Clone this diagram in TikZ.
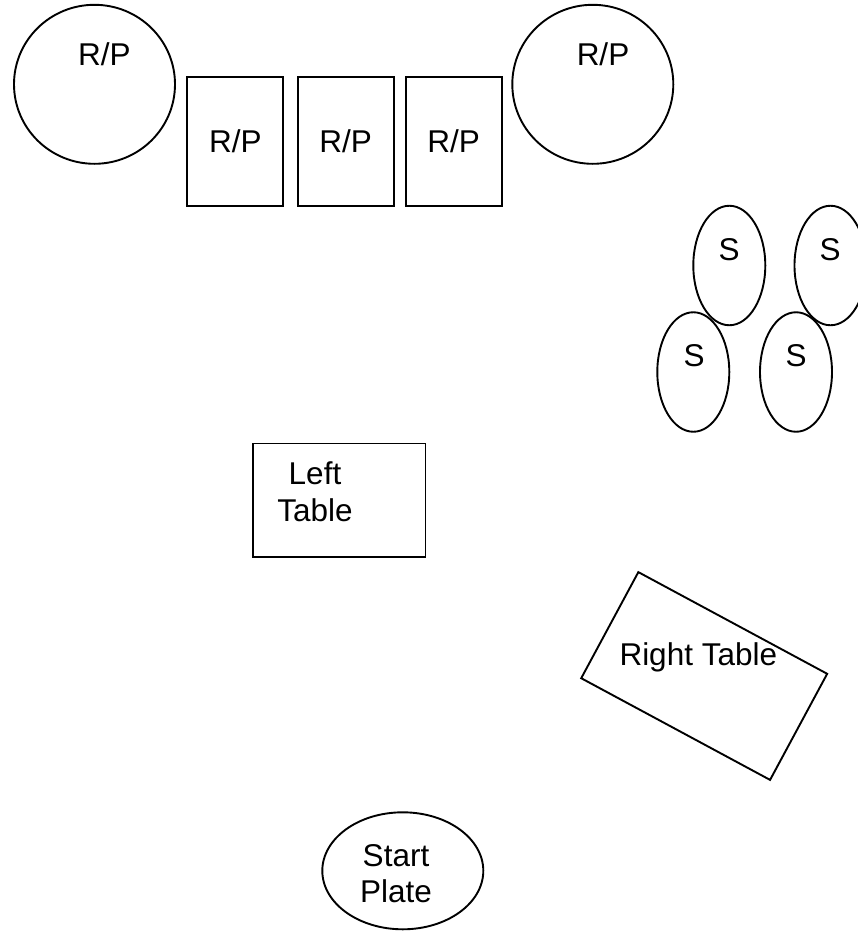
\documentclass[tikz,border=0pt]{standalone}
\usepackage{fontspec}
\setmainfont{Liberation Sans}
\usetikzlibrary{shapes.geometric}
\tikzset{
  shapeline/.style={draw=black, line width=1.9pt},
  roundseat/.style={shapeline, ellipse, inner sep=0pt},
  boxseat/.style={shapeline, rectangle, inner sep=0pt},
  lbl/.style={font=\fontsize{31.5}{36.7}\selectfont, inner sep=0pt, align=center},
}
\begin{document}
\begin{tikzpicture}[x=1pt,y=-1pt]
\useasboundingbox (0,0) rectangle (858,932);
\clip (0,0) rectangle (858,932);
% R/P round tables
\node[roundseat, minimum width=161pt, minimum height=159pt] (rp1) at (94.5,84.3) {};
\node[lbl, anchor=base] (rp1t) at (104.5,65.7) {R/P};
\node[roundseat, minimum width=161pt, minimum height=159pt] (rp5) at (592.8,84.3) {};
\node[lbl, anchor=base] (rp5t) at (603,65.7) {R/P};
% R/P rectangles
\node[boxseat, lbl, minimum width=96pt, minimum height=128.5pt] (rp2) at (235.3,141.3) {R/P};
\node[boxseat, lbl, minimum width=96pt, minimum height=128.5pt] (rp3) at (345.7,141.3) {R/P};
\node[boxseat, lbl, minimum width=96pt, minimum height=128.5pt] (rp4) at (453.7,141.3) {R/P};
% S ellipses
\node[roundseat, minimum width=72pt, minimum height=119.5pt] (sa) at (729.3,265.5) {};
\node[roundseat, minimum width=72pt, minimum height=119.5pt] (sb) at (830.5,265.5) {};
\node[roundseat, minimum width=72pt, minimum height=119.5pt] (sc) at (693.3,372) {};
\node[roundseat, minimum width=72pt, minimum height=119.5pt] (sd) at (796,372) {};
\node[lbl, anchor=base] (sat) at (729,260.3) {S};
\node[lbl, anchor=base] (sbt) at (830,260.3) {S};
\node[lbl, anchor=base] (sct) at (694,366.7) {S};
\node[lbl, anchor=base] (sdt) at (796,366.7) {S};
% Left table
\node[boxseat, minimum width=172.5pt, minimum height=113.5pt] (lt) at (339.2,500.2) {};
\node[lbl] (ltt) at (315,491.8) {Left\\Table};
% Right table
\node[boxseat, rotate=-28.3, minimum width=214.5pt, minimum height=120.5pt] (rt) at (704.2,676) {};
\node[lbl, anchor=base] (rtt) at (698.3,665.7) {Right Table};
% Start plate
\node[roundseat, minimum width=161pt, minimum height=117pt] (sp) at (402.8,870.8) {};
\node[lbl] (spt) at (396,873.5) {Start\\Plate};
\end{tikzpicture}
\end{document}
